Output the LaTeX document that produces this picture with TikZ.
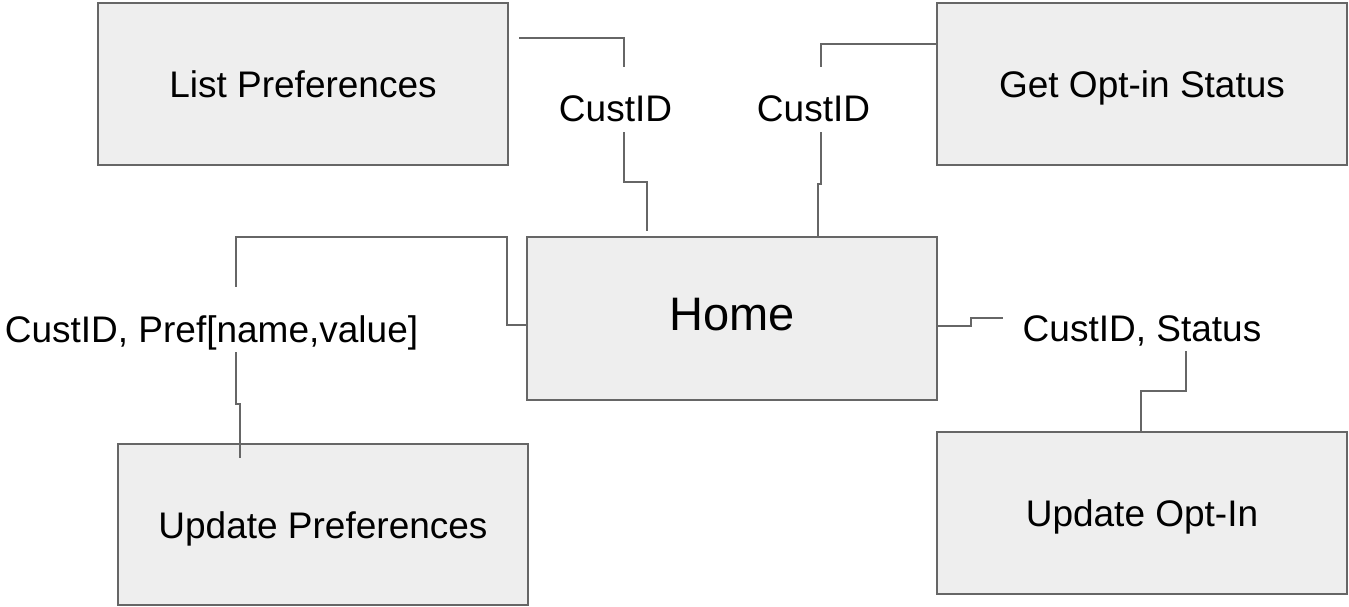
\documentclass[tikz,border=0pt]{standalone}
\usepackage{fontspec}
\setmainfont{Liberation Sans}
\usetikzlibrary{positioning}
\definecolor{boxfill}{HTML}{EEEEEE}
\definecolor{wiregray}{HTML}{666666}

\begin{document}
\begin{tikzpicture}[x=1pt,y=-1pt,
  box/.style={draw=wiregray,line width=2pt,fill=boxfill,minimum width=410pt,minimum height=162pt,
    inner sep=0pt,text height=27pt,text depth=0pt,font=\fontsize{37}{44}\selectfont},
  lbl/.style={fill=white,inner ysep=0pt,inner xsep=20pt,text height=55pt,text depth=10pt,
    anchor=base,font=\fontsize{37}{44}\selectfont},
  wire/.style={draw=wiregray,line width=2pt}]
\useasboundingbox (0,0) rectangle (1349,607);
% services
\node[box] (lp) at (303,84) {List Preferences};
\node[box,right=427pt of lp] (go) {Get Opt-in Status};
\node[box,minimum height=163pt,text height=34pt,text depth=11pt,font=\fontsize{47}{56}\selectfont] (home) at (732,318.5) {Home};
\node[box,minimum height=161pt] (up) at (323,524.5) {Update Preferences};
\node[box,below=265pt of go] (uo) {Update Opt-In};
% wires
\coordinate (lpout) at (519,38);
\coordinate (homein) at (647,231);
\coordinate (upin) at (240,458);
\draw[wire] (lpout) -| (624,182) -| (homein);
\draw[wire] (go.west |- 0,44) -| (821,184) -| (home.north -| 818,0);
\draw[wire] (home.west |- 0,325) -| (507,237) -| (236,404) -| (upin);
\draw[wire] (home.east |- 0,326) -| (971,318) -| (1186,391) -| (uo.north -| 1141,0);
% parameters
\node[lbl] (idlist) at (615.5,122) {CustID};
\node[lbl] (idget) at (813.5,122) {CustID};
\node[lbl] (prefs) at (211.5,342) {CustID, Pref[name,value]};
\node[lbl] (status) at (1142,341) {CustID, Status};
\end{tikzpicture}
\end{document}
